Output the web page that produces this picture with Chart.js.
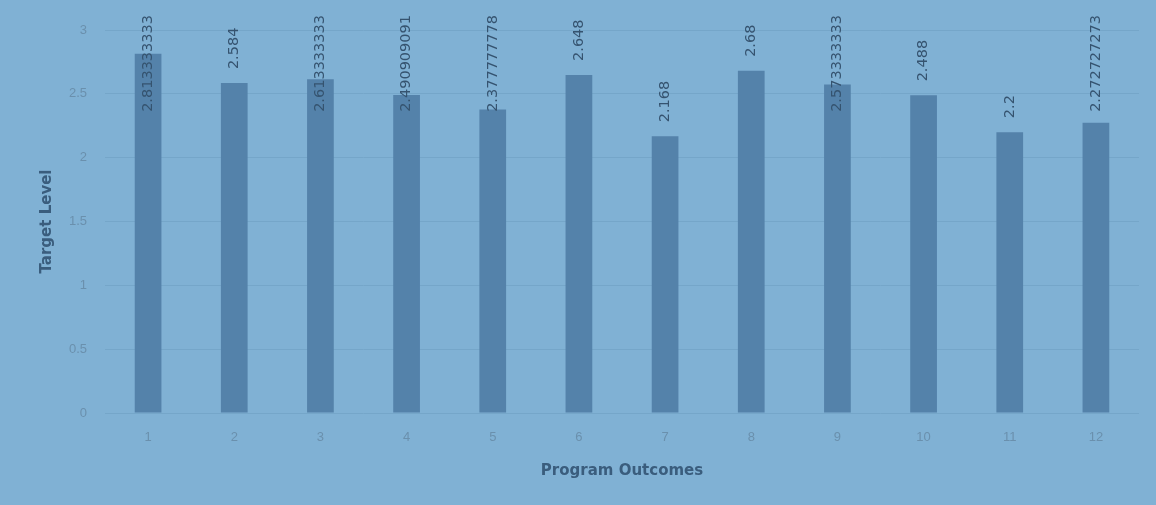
<!DOCTYPE html>
<html>
<head>
<meta charset="utf-8">
<script src="https://cdn.jsdelivr.net/npm/chart.js@4/dist/chart.umd.min.js"></script>
<style>
  body{margin:0;background:#80b1d4;}
  #wrap{width:1156px;height:505px;}
</style>
</head>
<body>
<div id="wrap"><canvas id="grafico"></canvas></div>
<script>
// datos
const resultados = ['1','2','3','4','5','6','7','8','9','10','11','12'];
const niveles = [2.813333333, 2.584, 2.613333333, 2.490909091, 2.377777778, 2.648, 2.168, 2.68, 2.573333333, 2.488, 2.2, 2.272727273];
const marcasY = [0, 0.5, 1, 1.5, 2, 2.5, 3];

// etiquetas verticales encima de cada barra
const etiquetas = {
    id: 'etiquetas',
    afterDatasetsDraw(chart){
        const ctx = chart.ctx;
        const barras = chart.getDatasetMeta(0).data;
        ctx.save();
        ctx.font = '14.5px "DejaVu Sans"';
        ctx.fillStyle = '#35536f';
        ctx.textBaseline = 'middle';
        ctx.textAlign = 'left';
        barras.forEach(function(b, i){
            let txt = String(niveles[i]);
            let w = ctx.measureText(txt).width;
            let abajo = b.y - 14;
            if (abajo - w < 15) abajo = 15 + w;
            ctx.save();
            ctx.translate(b.x, abajo);
            ctx.rotate(-Math.PI/2);
            ctx.fillText(txt, 0, 0);
            ctx.restore();
        });
        ctx.restore();
    }
};

const canvas = document.querySelector('#grafico');
const miGrafico = new Chart(canvas, {
    type: 'bar',
    data: {
        labels: resultados,
        datasets: [{
            label: 'Target Level',
            data: niveles,
            backgroundColor: '#5482aa',
            borderWidth: 0,
            barPercentage: 0.31,
            categoryPercentage: 1
        }]
    },
    options: {
        responsive: true,
        maintainAspectRatio: false,
        animation: false,
        layout: { padding: { top: 30, right: 17, left: 0, bottom: 0 } },
        plugins: { legend: { display: false }, tooltip: { enabled: false } },
        scales: {
            x: {
                grid: { display: false, drawTicks: false },
                border: { display: false },
                ticks: { padding: 17, color: '#6a90ad', font: { family: 'Liberation Sans', size: 13 } },
                title: { display: true, text: 'Program Outcomes', color: '#3a5d7d',
                         font: { family: 'DejaVu Sans', size: 15, weight: 'bold' },
                         padding: { top: 0, bottom: 25 } },
                afterFit(s){ s.height = 92; }
            },
            y: {
                min: 0, max: 3,
                afterBuildTicks(s){ s.ticks = marcasY.map(v => ({ value: v })); },
                grid: { color: '#75a6c9', lineWidth: 1, drawTicks: false },
                border: { display: false },
                ticks: { padding: 18, color: '#6a90ad', font: { family: 'Liberation Sans', size: 13 },
                         callback: function(v){ return String(v); } },
                title: { display: true, text: 'Target Level', color: '#3a5d7d',
                         font: { family: 'DejaVu Sans', size: 15, weight: 'bold' },
                         padding: { top: 38, bottom: 0 } },
                afterFit(s){ s.width = 105; }
            }
        }
    },
    plugins: [etiquetas]
});
</script>
</body>
</html>
